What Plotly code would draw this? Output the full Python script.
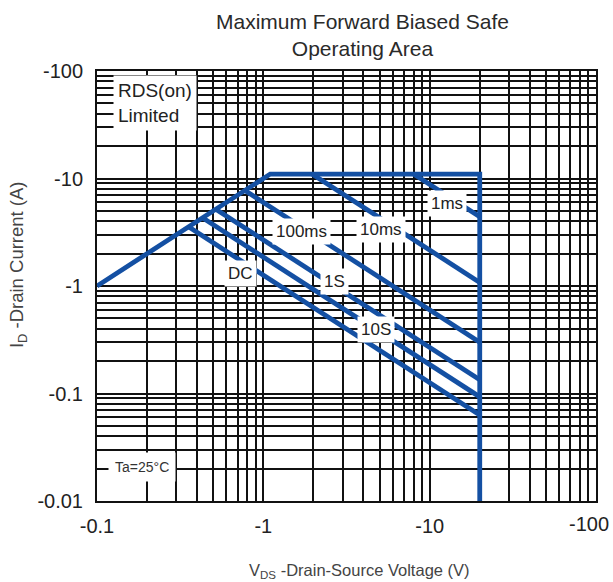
import numpy as np
import plotly.graph_objects as go

# Safe operating area values (magnitudes; the device is P-channel so labels carry a minus sign)
soa_v = [0.1, 1.1, 20.0, 20.0]          # RDS(on) limit -> current limit -> voltage limit
soa_i = [1.0, 11.0, 11.0, 0.01]

pulse_names = ["1ms", "10ms", "100ms", "1S", "10S", "DC"]
pulse_v_start = [8.0, 1.96, 0.775, 0.518, 0.431, 0.355]
pulse_i_start = [11.0, 11.0, 7.75, 5.18, 4.31, 3.55]
pulse_v_end = [20.0, 20.0, 20.0, 20.0, 20.0, 20.0]
pulse_i_end = [4.4, 1.08, 0.30, 0.134, 0.093, 0.063]

x_decades = [0.1, 1, 10, 100]
x_tick_text = ["-0.1", "-1", "-10", "-100"]
y_decades = [0.01, 0.1, 1, 10, 100]
y_tick_text = ["-0.01", "-0.1", "-1", "-10", "-100"]

# label anchor points (V, A)
label_pos = {
    "1ms": (12.7, 5.9),
    "10ms": (5.1, 3.39),
    "100ms": (1.69, 3.18),
    "1S": (2.66, 1.09),
    "10S": (4.76, 0.39),
    "DC": (0.724, 1.32),
}

BLUE = "#1450a3"
FONT = "Liberation Sans, Arial, sans-serif"


def log_grid(decades):
    vals, text = [], []
    for d in decades[:-1]:
        for k in range(1, 10):
            vals.append(d * k)
            text.append("")
    vals.append(decades[-1])
    text.append("")
    return vals, text


# the last x label sits at the page edge, so it is drawn right-aligned separately
xv, xt = log_grid(x_decades)
for d, t in zip(x_decades[:-1], x_tick_text[:-1]):
    xt[xv.index(d)] = t
yv, yt = log_grid(y_decades)
for d, t in zip(y_decades, y_tick_text):
    yt[yv.index(d)] = t

fig = go.Figure()
fig.add_trace(go.Scatter(x=soa_v, y=soa_i, mode="lines",
                         line=dict(color=BLUE, width=4.8), hoverinfo="skip"))
for name, v0, i0, v1, i1 in zip(pulse_names, pulse_v_start, pulse_i_start,
                                pulse_v_end, pulse_i_end):
    fig.add_trace(go.Scatter(x=[v0, v1], y=[i0, i1], mode="lines", name=name,
                             line=dict(color=BLUE, width=4.8), hoverinfo="skip"))

annotations = []
for name in pulse_names:
    vx, iy = label_pos[name]
    annotations.append(dict(x=np.log10(vx), y=np.log10(iy), xref="x", yref="y",
                            text=name, showarrow=False, bgcolor="white",
                            borderpad=3, font=dict(size=17, color="#222", family=FONT)))

annotations.append(dict(x=np.log10(0.125), y=np.log10(50), xref="x", yref="y",
                        text="RDS(on)<br>Limited", showarrow=False, align="left",
                        xanchor="left", bgcolor="white", borderpad=4,
                        font=dict(size=19, color="#222", family=FONT)))
annotations.append(dict(x=np.log10(0.187), y=np.log10(0.0207), xref="x", yref="y",
                        text="Ta=25°C", showarrow=False, bgcolor="white",
                        borderpad=6, font=dict(size=14, color="#333", family=FONT)))

# end-of-axis x label, kept inside the page
annotations.append(dict(x=1.031, y=-0.0535, xref="paper", yref="paper",
                        text=x_tick_text[-1], showarrow=False,
                        xanchor="right", yanchor="middle",
                        font=dict(size=20, color="#222", family=FONT)))

# chart title and axis titles
annotations.append(dict(x=0.533, y=1.084, xref="paper", yref="paper",
                        text="Maximum Forward Biased Safe<br>Operating Area",
                        showarrow=False, xanchor="center", yanchor="middle",
                        font=dict(size=21, color="#2a2a2a", family=FONT)))
annotations.append(dict(x=0.527, y=-0.163, xref="paper", yref="paper",
                        text="V<sub>DS</sub> -Drain-Source Voltage (V)",
                        showarrow=False, xanchor="center", yanchor="middle",
                        font=dict(size=16.5, color="#444", family=FONT)))
annotations.append(dict(x=-0.158, y=0.549, xref="paper", yref="paper",
                        text="I<sub>D</sub> -Drain Current (A)", textangle=-90,
                        showarrow=False, xanchor="center", yanchor="middle",
                        font=dict(size=18.5, color="#444", family=FONT)))

fig.update_layout(
    width=613, height=582,
    margin=dict(l=97, r=17, t=71, b=81),
    paper_bgcolor="white", plot_bgcolor="white",
    showlegend=False,
    font=dict(family=FONT, color="#222"),
    annotations=annotations,
)
fig.update_xaxes(type="log", range=[-1, 2], tickmode="array", tickvals=xv, ticktext=xt,
                 showgrid=True, gridcolor="#111", gridwidth=1.7, zeroline=False,
                 showline=True, linecolor="#111", linewidth=2, mirror=True, ticks="",
                 ticklabelstandoff=6, ticklabeloverflow="allow", automargin=False,
                 tickfont=dict(size=20, color="#222"))
fig.update_yaxes(type="log", range=[-2, 2], tickmode="array", tickvals=yv, ticktext=yt,
                 showgrid=True, gridcolor="#111", gridwidth=1.7, zeroline=False,
                 showline=True, linecolor="#111", linewidth=2, mirror=True, ticks="",
                 ticklabelstandoff=8, ticklabeloverflow="allow", automargin=False,
                 tickfont=dict(size=20, color="#222"))

fig.write_html("out.html")
